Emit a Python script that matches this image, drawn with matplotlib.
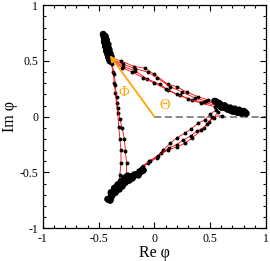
import matplotlib.pyplot as plt
from matplotlib.patches import FancyArrowPatch
import numpy as np

plt.rcParams['font.family'] = ['Liberation Serif', 'DejaVu Serif']

# cluster near the upper-left state
ax_A = [-0.46, -0.45, -0.44, -0.45, -0.43, -0.44, -0.42, -0.43, -0.41, -0.42, -0.40, -0.41, -0.39, -0.40, -0.44, -0.42]
ay_A = [0.74, 0.71, 0.72, 0.67, 0.69, 0.63, 0.65, 0.59, 0.61, 0.56, 0.57, 0.53, 0.54, 0.50, 0.70, 0.60]

# cluster near the right state
bx_B = [0.54, 0.58, 0.60, 0.63, 0.65, 0.68, 0.70, 0.72, 0.74, 0.76, 0.78, 0.80, 0.82, 0.80, 0.76, 0.72, 0.68, 0.64, 0.60]
by_B = [0.14, 0.12, 0.09, 0.10, 0.07, 0.08, 0.05, 0.07, 0.04, 0.06, 0.03, 0.05, 0.03, 0.04, 0.04, 0.05, 0.06, 0.08, 0.09]

# cluster near the lower-left state
cx_C = [-0.42, -0.40, -0.38, -0.39, -0.35, -0.36, -0.32, -0.33, -0.29, -0.30, -0.26, -0.27, -0.23, -0.24, -0.20, -0.18, -0.15, -0.12, -0.10]
cy_C = [-0.74, -0.75, -0.70, -0.68, -0.68, -0.64, -0.65, -0.61, -0.62, -0.58, -0.59, -0.55, -0.57, -0.53, -0.55, -0.52, -0.52, -0.49, -0.48]

# transitions A -> B
ab_paths = [
    ([-0.39, -0.30, -0.18, -0.085, 0.00, 0.12, 0.20, 0.29, 0.39, 0.48, 0.56],
     [0.53, 0.50, 0.45, 0.435, 0.38, 0.29, 0.27, 0.22, 0.18, 0.15, 0.12]),
    ([-0.39, -0.28, -0.17, -0.06, 0.02, 0.14, 0.25, 0.36, 0.46, 0.56],
     [0.52, 0.47, 0.43, 0.40, 0.35, 0.27, 0.22, 0.17, 0.14, 0.11]),
    ([-0.38, -0.28, -0.17, -0.07, 0.05, 0.12, 0.23, 0.34, 0.44, 0.55],
     [0.51, 0.45, 0.41, 0.34, 0.29, 0.24, 0.19, 0.15, 0.13, 0.10]),
    ([-0.38, -0.29, -0.20, -0.10, 0.00, 0.10, 0.20, 0.30, 0.42, 0.54],
     [0.50, 0.44, 0.40, 0.35, 0.30, 0.25, 0.20, 0.16, 0.12, 0.09]),
]

# transitions B -> C
bc_paths = [
    ([0.55, 0.50, 0.45, 0.39, 0.33, 0.27, 0.20, 0.14, 0.08, 0.02, -0.05, -0.10, -0.15],
     [0.06, 0.02, -0.03, -0.06, -0.11, -0.15, -0.19, -0.24, -0.30, -0.36, -0.40, -0.44, -0.48]),
    ([0.57, 0.53, 0.49, 0.44, 0.38, 0.33, 0.26, 0.20, 0.13, 0.06, 0.02, -0.06, -0.12],
     [0.04, -0.01, -0.05, -0.10, -0.13, -0.17, -0.21, -0.25, -0.28, -0.33, -0.37, -0.42, -0.46]),
    ([0.61, 0.52, 0.47, 0.42, 0.34, 0.27, 0.20, 0.12, 0.03, -0.04, -0.11],
     [0.01, 0.00, -0.07, -0.12, -0.19, -0.24, -0.27, -0.30, -0.35, -0.40, -0.45]),
]

# transitions C -> A
ca_paths = [
    ([-0.39, -0.37, -0.36, -0.35, -0.34, -0.33, -0.32, -0.31, -0.30, -0.30, -0.31, -0.33],
     [0.48, 0.40, 0.30, 0.21, 0.12, 0.03, -0.09, -0.20, -0.30, -0.42, -0.52, -0.66]),
    ([-0.38, -0.36, -0.35, -0.34, -0.33, -0.31, -0.29, -0.27, -0.26, -0.25, -0.25, -0.23],
     [0.47, 0.38, 0.28, 0.18, 0.08, -0.02, -0.10, -0.20, -0.31, -0.42, -0.52, -0.57]),
]

fig = plt.figure(figsize=(2.70, 2.61), dpi=100)
ax = fig.add_axes([0.159, 0.126, 0.826, 0.854])

for xs, ys in ab_paths + bc_paths + ca_paths:
    ax.plot(xs, ys, color='red', lw=0.6, marker='o', markersize=1.8,
            markerfacecolor='black', markeredgecolor='black', zorder=2)

for xs, ys in [(ax_A, ay_A), (bx_B, by_B), (cx_C, cy_C)]:
    ax.plot(xs, ys, color='black', lw=5.0, solid_capstyle='round',
            solid_joinstyle='round', zorder=3)
    ax.plot(xs, ys, 'o', color='black', markersize=3.5, zorder=3)

ax.plot([0, 1], [0, 0], color='#808080', lw=1.3, ls=(0, (4, 2)), zorder=1)
arrow = FancyArrowPatch((0, 0), (-0.40, 0.55), arrowstyle='-|>', color='orange',
                        lw=1.3, mutation_scale=9, shrinkA=0, shrinkB=0, zorder=5)
ax.add_patch(arrow)
ax.text(-0.27, 0.22, 'Φ', color='orange', fontsize=10.5, ha='center', va='center')
ax.text(0.09, 0.10, 'Θ', color='orange', fontsize=10.5, ha='center', va='center')

ax.set_xlim(-1, 1)
ax.set_ylim(-1, 1)
ax.set_xticks([-1, -0.5, 0, 0.5, 1])
ax.set_yticks([-1, -0.5, 0, 0.5, 1])
ax.set_xticklabels(['-1', '-0.5', '0', '0.5', '1'])
ax.set_yticklabels(['-1', '-0.5', '0', '0.5', '1'])
ax.set_xticks(np.arange(-1, 1.01, 0.1), minor=True)
ax.set_yticks(np.arange(-1, 1.01, 0.1), minor=True)
ax.tick_params(which='both', direction='in', top=True, right=True, labelsize=8.5, width=0.8)
ax.tick_params(which='major', length=4.5)
ax.tick_params(which='minor', length=2.5)
for s in ax.spines.values():
    s.set_linewidth(0.9)
ax.set_xlabel('Re φ', fontsize=11.5, labelpad=0)
ax.set_ylabel('Im φ', fontsize=11.5, labelpad=1)

fig.savefig('out.png', dpi=100)
